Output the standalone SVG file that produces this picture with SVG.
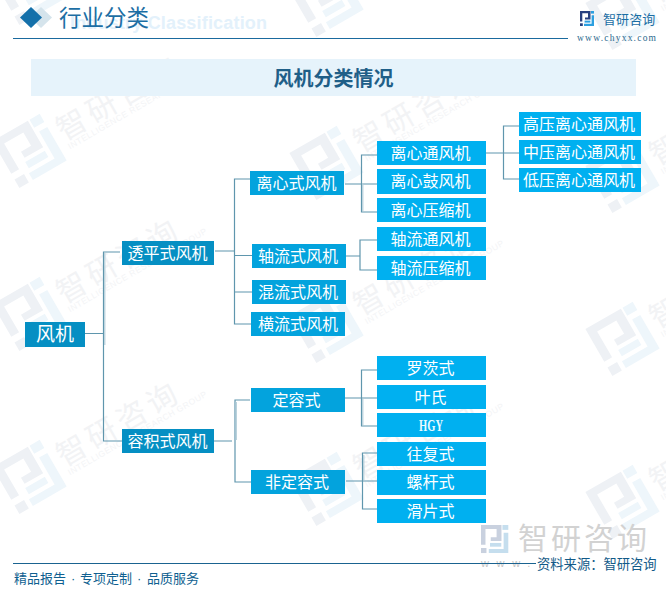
<svg xmlns="http://www.w3.org/2000/svg" xmlns:xlink="http://www.w3.org/1999/xlink" width="666" height="589" viewBox="0 0 666 589">
<style>
text{font-family:"Noto Sans CJK SC","Liberation Sans",sans-serif}
.n{fill:#fff;font-size:16px;text-anchor:middle}
.r{fill:#058fc3}.m{fill:#03a3dd}.l{fill:#00b0f0}
.c{fill:none;stroke:#5f96ad;stroke-width:1.2}
.s{fill:none;stroke:#b3cdd9;stroke-width:1.2}
.wt{font-size:30px;letter-spacing:4.6px;fill:#f2f3f5}
.ws{font-family:"Liberation Sans",sans-serif;font-size:8.5px;letter-spacing:.55px;fill:#f3f4f6}
.ld{fill:#eef1f5}.ll{fill:#eef6fb}
.dot{font-family:"Liberation Sans",sans-serif}
</style>
<defs>
<g id="wm">
<g transform="translate(-29 -27) scale(3.9 3.6)">
<path class="ld" d="M0 0H10.500V8.500H5V6.500H8V2.200H2.300V10.500H0Z"/>
<rect class="ld" x="0" y="12.300" width="2.800" height="2.700"/>
<rect class="ll" x="11" y="0" width="3" height="2.600"/>
<path class="ll" d="M11.600 4.200H14V15H4V12.800H11.600Z"/>
<path class="ll" d="M4.600 9.600H10.400V11.600H4.600Z"/>
</g>
<text class="wt" x="33" y="9">智研咨询</text>
<text class="ws" x="34" y="19">INTELLIGENCE RESEARCH GROUP</text>
</g>
</defs>
<rect width="666" height="589" fill="#fff"/>
<g id="watermarks">
<use xlink:href="#wm" href="#wm" transform="translate(31 -13) rotate(-30)"/>
<use xlink:href="#wm" href="#wm" transform="translate(31 150) rotate(-30)"/>
<use xlink:href="#wm" href="#wm" transform="translate(31 313) rotate(-30)"/>
<use xlink:href="#wm" href="#wm" transform="translate(31 476) rotate(-30)"/>
<use xlink:href="#wm" href="#wm" transform="translate(328 -1) rotate(-30)"/>
<use xlink:href="#wm" href="#wm" transform="translate(328 162) rotate(-30)"/>
<use xlink:href="#wm" href="#wm" transform="translate(328 325) rotate(-30)"/>
<use xlink:href="#wm" href="#wm" transform="translate(328 488) rotate(-30)"/>
<use xlink:href="#wm" href="#wm" transform="translate(624 12) rotate(-30)"/>
<use xlink:href="#wm" href="#wm" transform="translate(624 175) rotate(-30)"/>
<use xlink:href="#wm" href="#wm" transform="translate(624 338) rotate(-30)"/>
<use xlink:href="#wm" href="#wm" transform="translate(624 501) rotate(-30)"/>
</g>
<g id="header">
<path d="M41 7L52 17.500L41 28L30 17.500Z" fill="#d5e4ec"/>
<path d="M31 7L42 17.500L31 28L20 17.500Z" fill="#1470aa"/>
<text x="70" y="29" font-size="18" font-weight="700" fill="#e3f1fb" textLength="197" style="font-family:'Liberation Sans',sans-serif">Industry Classification</text>
<text x="59" y="26" font-size="22.500" fill="#1c6ea4">行业分类</text>
<path d="M13 38.500H568" stroke="#1a6a9e" stroke-width="1" fill="none"/>
<g transform="translate(580 11)">
<path d="M0 0H10.500V8.500H5V6.500H8V2.200H2.300V10.500H0Z" fill="#27407f"/>
<rect x="0" y="12.300" width="2.800" height="2.700" fill="#27407f"/>
<rect x="11" y="0" width="3" height="2.600" fill="#2c9fe0"/>
<path d="M11.600 4.200H14V15H4V12.800H11.600Z" fill="#2c9fe0"/>
<path d="M4.600 9.600H10.400V11.600H4.600Z" fill="#2c9fe0"/>
</g>
<text x="603" y="24" font-size="13" letter-spacing=".1" fill="#1c6ea4">智研咨询</text>
<text x="577" y="41" font-size="9.500" fill="#2d6a8e" textLength="79" style="font-family:'Liberation Serif',serif">www.chyxx.com</text>
</g>
<g id="title">
<rect x="31" y="59" width="605" height="37" fill="#e6f3fb"/>
<text x="333.500" y="86" font-size="20" font-weight="700" fill="#1f5f88" text-anchor="middle">风机分类情况</text>
</g>
<g id="connectors">
<path class="c" d="M85 333.500H103M120 252H103.500V441H122"/>
<path class="s" d="M104.800 253V345"/>
<path class="c" d="M215 251H234M250 179H234.500V324H251M234.500 255.500H252M234.500 292H252"/>
<path class="c" d="M214 441H232M250 400H235V482H251"/>
<path class="s" d="M236.300 402V440"/>
<path class="c" d="M345 184H377M377 155H361.500V212H377"/>
<path class="s" d="M362.800 183V211"/>
<path class="c" d="M346 256H360M377 240H360V270H377"/>
<path class="c" d="M486 153H519M519 126H503.500V179H519"/>
<path class="c" d="M345 398H377M377 370H361.500V426H377"/>
<path class="s" d="M362.800 399V425"/>
<path class="c" d="M346 481H377M377 453H362.500V509H377"/>
<path class="s" d="M363.800 455V480"/>
</g>
<g id="n-root"><rect class="r" x="25" y="322" width="60" height="25"/><text class="n" x="55" y="341" style="font-size:19px">风机</text></g>
<g id="n-tp"><rect class="r" x="122" y="241" width="92" height="24"/><text class="n" x="167.500" y="259">透平式风机</text></g>
<g id="n-rj"><rect class="r" x="122" y="429" width="92" height="24"/><text class="n" x="167.500" y="447">容积式风机</text></g>
<g id="n-lx"><rect class="m" x="250" y="171" width="94" height="24"/><text class="n" x="296.500" y="189">离心式风机</text></g>
<g id="n-zl"><rect class="m" x="252" y="244" width="94" height="24"/><text class="n" x="298" y="262">轴流式风机</text></g>
<g id="n-hl"><rect class="m" x="252" y="280" width="94" height="24"/><text class="n" x="298" y="298">混流式风机</text></g>
<g id="n-hg"><rect class="m" x="251" y="312" width="94" height="24"/><text class="n" x="298" y="330">横流式风机</text></g>
<g id="n-dr"><rect class="m" x="251" y="388" width="94" height="24"/><text class="n" x="296.500" y="406">定容式</text></g>
<g id="n-fd"><rect class="m" x="251" y="470" width="94" height="24"/><text class="n" x="297" y="488">非定容式</text></g>
<g id="n-lxt"><rect class="l" x="377" y="141" width="109" height="24"/><text class="n" x="430.500" y="159">离心通风机</text></g>
<g id="n-lxg"><rect class="l" x="377" y="169" width="109" height="25"/><text class="n" x="430.500" y="187">离心鼓风机</text></g>
<g id="n-lxy"><rect class="l" x="377" y="198" width="109" height="24"/><text class="n" x="430.500" y="216">离心压缩机</text></g>
<g id="n-zlt"><rect class="l" x="377" y="227" width="109" height="24"/><text class="n" x="430.500" y="245">轴流通风机</text></g>
<g id="n-zly"><rect class="l" x="377" y="256" width="109" height="24"/><text class="n" x="430.500" y="274">轴流压缩机</text></g>
<g id="n-g"><rect class="l" x="519" y="112" width="122" height="24"/><text class="n" x="579" y="130">高压离心通风机</text></g>
<g id="n-z"><rect class="l" x="519" y="140" width="122" height="24"/><text class="n" x="579" y="158">中压离心通风机</text></g>
<g id="n-d"><rect class="l" x="519" y="168" width="122" height="24"/><text class="n" x="579" y="186">低压离心通风机</text></g>
<g id="n-lc"><rect class="l" x="377" y="356" width="109" height="24"/><text class="n" x="430.500" y="374">罗茨式</text></g>
<g id="n-ys"><rect class="l" x="377" y="385" width="109" height="24"/><text class="n" x="430.500" y="403">叶氏</text></g>
<g id="n-hgy"><rect class="l" x="377" y="413" width="109" height="24"/><text x="419" y="431" textLength="24" lengthAdjust="spacingAndGlyphs" style="fill:#eafaff;font-size:16px;font-weight:700;font-family:'Liberation Serif',serif">HGY</text></g>
<g id="n-wf"><rect class="l" x="377" y="442" width="109" height="24"/><text class="n" x="430.500" y="460">往复式</text></g>
<g id="n-lg"><rect class="l" x="377" y="470" width="109" height="25"/><text class="n" x="430.500" y="488">螺杆式</text></g>
<g id="n-hp"><rect class="l" x="377" y="499" width="109" height="24"/><text class="n" x="430.500" y="517">滑片式</text></g>
<g id="footer">
<g transform="translate(481 525) scale(1.95 1.87)">
<path d="M0 0H10.500V8.500H5V6.500H8V2.200H2.300V10.500H0Z" fill="#c9d1df"/>
<rect x="0" y="12.300" width="2.800" height="2.700" fill="#c9d1df"/>
<rect x="11" y="0" width="3" height="2.600" fill="#c5deee"/>
<path d="M11.600 4.200H14V15H4V12.800H11.600Z" fill="#c5deee"/>
<path d="M4.600 9.600H10.400V11.600H4.600Z" fill="#c5deee"/>
</g>
<text x="518" y="549" font-size="30" letter-spacing="3" fill="#d2d2d2">智研咨询</text>
<text x="481" y="567" font-size="11" fill="#c4c4c4" textLength="170" style="font-family:'Liberation Sans',sans-serif">www.chyxx.com</text>
<path d="M13 563.500H536" stroke="#1a6390" stroke-width="1" fill="none"/>
<rect x="536" y="556" width="122" height="16" fill="#fff" fill-opacity=".93"/>
<text x="537" y="569" font-size="13.300" fill="#125a88">资料来源：智研咨询</text>
<text y="583" font-size="13" fill="#0f5f90"><tspan x="14">精品报告</tspan><tspan class="dot" x="71">·</tspan><tspan x="80">专项定制</tspan><tspan class="dot" x="137">·</tspan><tspan x="147">品质服务</tspan></text>
</g>
</svg>
